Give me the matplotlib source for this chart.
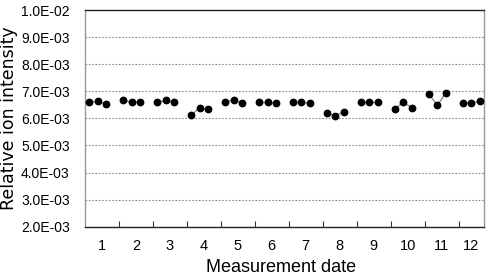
import numpy as np
import matplotlib
matplotlib.use("Agg")
import matplotlib.pyplot as plt
from matplotlib.ticker import FuncFormatter, FixedLocator

dates = ["1", "2", "3", "4", "5", "6", "7", "8", "9", "10", "11", "12"]
# three replicate measurements per date (relative ion intensity)
run1 = [6.59e-3, 6.66e-3, 6.59e-3, 6.11e-3, 6.59e-3, 6.59e-3, 6.59e-3, 6.19e-3, 6.60e-3, 6.34e-3, 6.91e-3, 6.57e-3]
run2 = [6.63e-3, 6.59e-3, 6.66e-3, 6.39e-3, 6.68e-3, 6.59e-3, 6.59e-3, 6.10e-3, 6.60e-3, 6.60e-3, 6.48e-3, 6.57e-3]
run3 = [6.52e-3, 6.60e-3, 6.59e-3, 6.34e-3, 6.56e-3, 6.56e-3, 6.56e-3, 6.23e-3, 6.60e-3, 6.39e-3, 6.94e-3, 6.63e-3]
yticks = [2e-3, 3e-3, 4e-3, 5e-3, 6e-3, 7e-3, 8e-3, 9e-3, 1e-2]

fig = plt.figure(figsize=(4.89, 2.77), dpi=100)
ax = fig.add_axes([85/489, 1-226.7/277, (484-85)/489, (226.7-10)/277])

n = len(dates)
slot = 4  # 3 points + 1 gap per date
for g in range(n):
    xs = [g*slot + j for j in range(3)]
    ys = [run1[g], run2[g], run3[g]]
    ax.plot(xs, ys, color="#8c8c8c", lw=1.0, zorder=2)
    ax.plot(xs, ys, ls="none", marker="o", ms=4.6, mfc="black", mec="black", zorder=3)

xmin, xmax = -0.5, (n-1)*slot + 2.5
ax.set_xlim(xmin, xmax)
ax.set_ylim(yticks[0], yticks[-1])

bounds = [g*slot - 0.5 for g in range(1, n)]
ax.xaxis.set_major_locator(FixedLocator(bounds))
edges = [xmin] + bounds + [xmax]
centers = [(edges[i] + edges[i+1]) / 2 for i in range(n)]
ax.xaxis.set_major_formatter(FuncFormatter(lambda v, p: ""))
ax.set_xticks(centers, minor=True)
ax.set_xticklabels(dates, minor=True, fontfamily="Liberation Sans", fontsize=10.5)
ax.tick_params(axis="x", which="major", direction="in", length=4, width=0.8, color="#333333")
ax.tick_params(axis="x", which="minor", length=0, pad=9)

ax.set_yticks(yticks)
ax.yaxis.set_major_formatter(FuncFormatter(lambda v, p: f"{v:.1E}"))
for lab in ax.get_yticklabels():
    lab.set_fontfamily("Liberation Sans")
    lab.set_fontsize(10)
ax.tick_params(axis="y", length=0, pad=11)

for yv in yticks[1:-1]:
    ax.axhline(yv, color="#8a8a8a", lw=0.8, ls=(0, (1.5, 1.5)), zorder=1)

ax.spines["top"].set_color("#222222")
ax.spines["bottom"].set_color("#222222")
ax.spines["left"].set_color("#9a9a9a")
ax.spines["right"].set_color("#9a9a9a")
for s in ax.spines.values():
    s.set_linewidth(1.0)

fig.text(9/489, 1-118.5/277, "Relative ion intensity", rotation=90, ha="center", va="center",
         fontfamily="DejaVu Sans", fontsize=12.5)
fig.text(281/489, 1-268/277, "Measurement date", ha="center", va="center",
         fontfamily="Liberation Sans", fontsize=13)

fig.savefig("out.png", dpi=100)
